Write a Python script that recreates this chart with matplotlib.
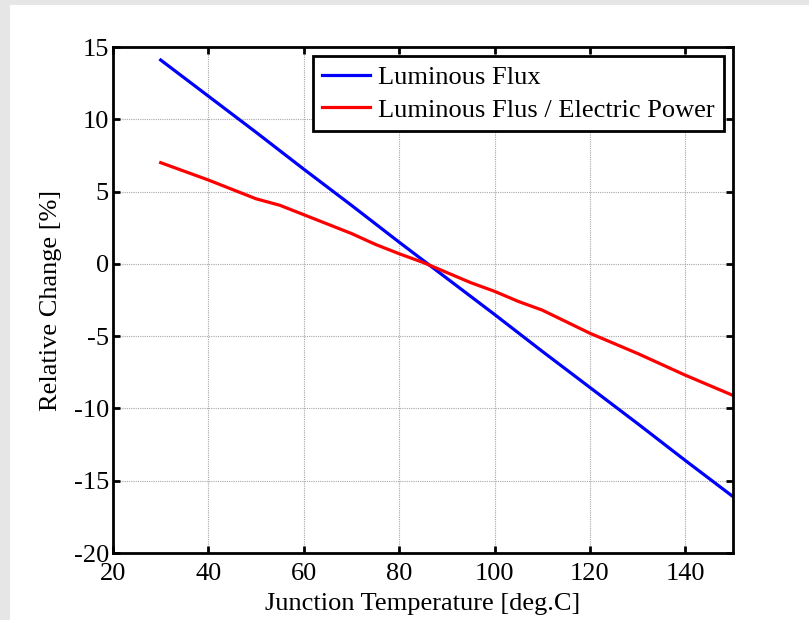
#!/usr/bin/env python3
"""Relative change of luminous flux vs junction temperature (MATLAB-style look)."""
import matplotlib.pyplot as plt
from matplotlib.patches import Rectangle

# junction temperature [deg.C]
temp_flux = [30, 40, 50, 60, 70, 80, 90, 100, 110, 120, 130, 140, 150]
flux = [14.1, 11.6, 9.1, 6.55, 4.05, 1.5, -1.0, -3.5, -6.05, -8.55, -11.05, -13.6, -16.1]

temp_eff = [30, 35, 40, 45, 50, 55, 60, 65, 70, 75, 80, 85, 90, 95, 100,
            105, 110, 115, 120, 125, 130, 135, 140, 145, 150]
flux_per_power = [7.0, 6.4, 5.8, 5.15, 4.5, 4.05, 3.4, 2.75, 2.1, 1.35, 0.7, 0.1,
                  -0.6, -1.3, -1.9, -2.6, -3.2, -4.0, -4.8, -5.5, -6.2, -6.95,
                  -7.7, -8.4, -9.1]

x_ticks = [20, 40, 60, 80, 100, 120, 140]
y_ticks = [-20, -15, -10, -5, 0, 5, 10, 15]

plt.rcParams["font.family"] = ["Liberation Serif", "DejaVu Serif"]
plt.rcParams["axes.unicode_minus"] = False
FS = 19

fig = plt.figure(figsize=(8.09, 6.2), dpi=100)
# light gray frame strips of the screenshot
fig.patches.append(Rectangle((0, 0), 10 / 809, 1, transform=fig.transFigure,
                             facecolor="#e6e6e6", edgecolor="none", zorder=0))
fig.patches.append(Rectangle((0, 1 - 5 / 620), 1, 5 / 620, transform=fig.transFigure,
                             facecolor="#e6e6e6", edgecolor="none", zorder=0))

ax = fig.add_axes([113 / 809, 67 / 620, 620 / 809, 506 / 620])
ax.plot(temp_flux, flux, color="#0000ff", linewidth=2.3, label="Luminous Flux")
ax.plot(temp_eff, flux_per_power, color="#ff0000", linewidth=2.3,
        label="Luminous Flus / Electric Power")

ax.set_xlim(20, 150)
ax.set_ylim(-20, 15)
ax.set_xticks(x_ticks)
ax.set_yticks(y_ticks)
ax.grid(True, color="#a8a8a8", linestyle=(0, (1, 1)), linewidth=0.8)
ax.tick_params(direction="in", length=5, width=2, top=True, right=True,
               labelsize=FS)
ax.tick_params(axis="x", pad=7)
ax.tick_params(axis="y", pad=3)
for sp in ax.spines.values():
    sp.set_linewidth(2)

ax.set_xlabel("Junction Temperature [deg.C]", fontsize=FS, labelpad=6)
ax.set_ylabel("Relative Change [%]", fontsize=FS, labelpad=8)

leg = ax.legend(loc="upper right", fontsize=FS, fancybox=False, framealpha=1,
                edgecolor="black", handlelength=1.8, borderpad=0.35,
                labelspacing=0.35, handletextpad=0.3, borderaxespad=0.35)
leg.get_frame().set_linewidth(2)

fig.savefig("out.png", dpi=100)
